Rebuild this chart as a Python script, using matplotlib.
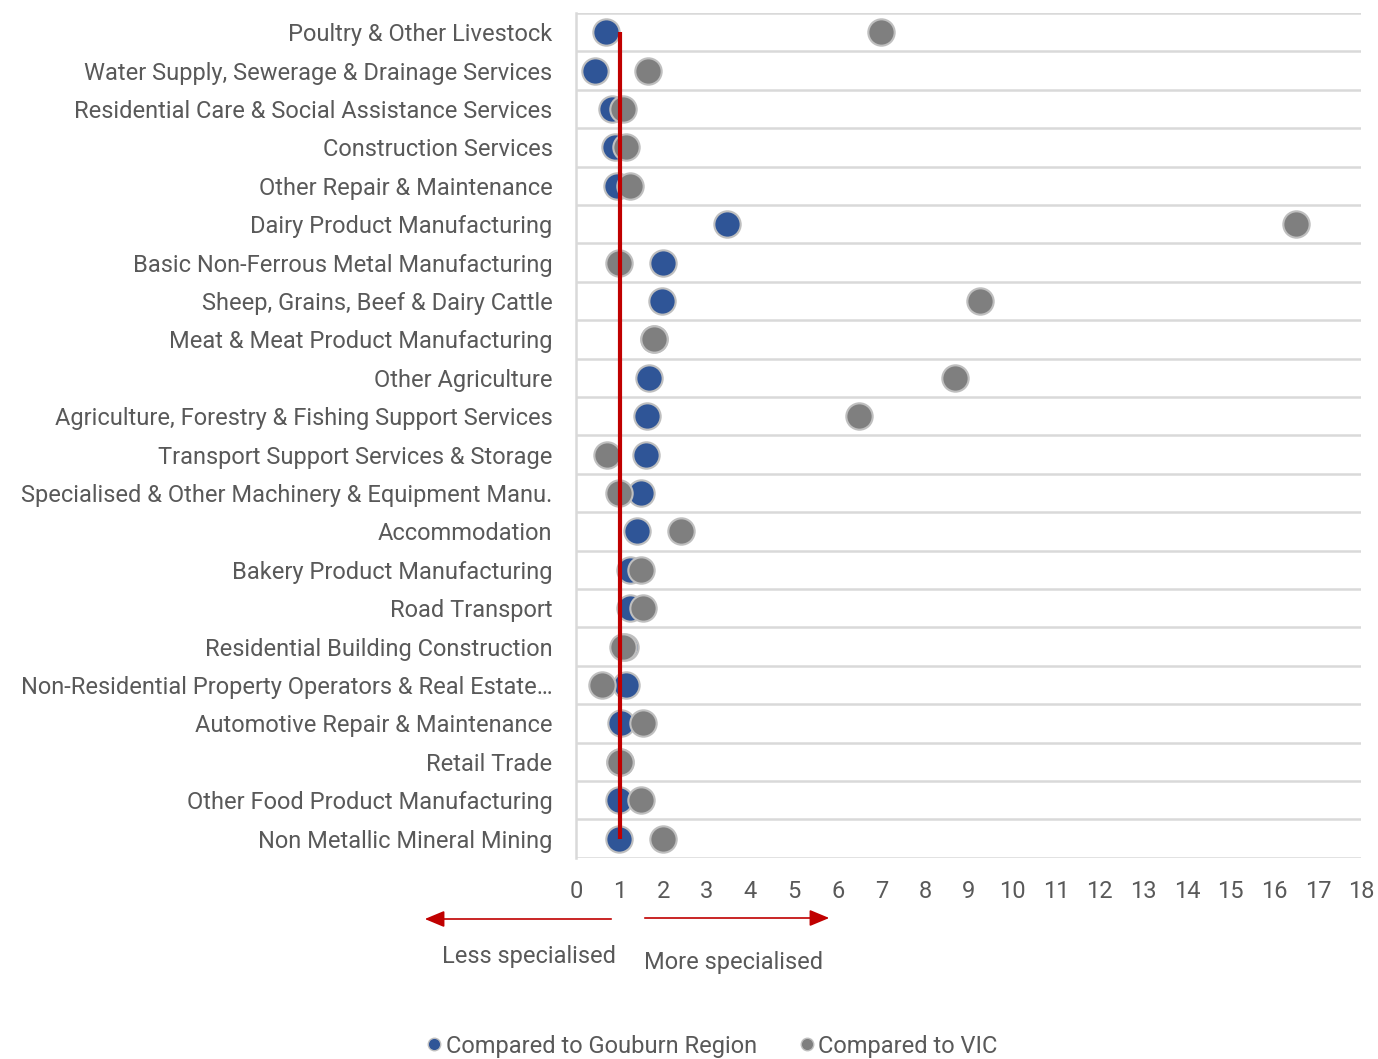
import matplotlib.pyplot as plt
from matplotlib.lines import Line2D
from matplotlib.patches import FancyArrowPatch

plt.rcParams['font.family'] = ['Roboto', 'DejaVu Sans']

# industrias, de cima para baixo
industrias = [
    "Poultry & Other Livestock",
    "Water Supply, Sewerage & Drainage Services",
    "Residential Care & Social Assistance Services",
    "Construction Services",
    "Other Repair & Maintenance",
    "Dairy Product Manufacturing",
    "Basic Non-Ferrous Metal Manufacturing",
    "Sheep, Grains, Beef & Dairy Cattle",
    "Meat & Meat Product Manufacturing",
    "Other Agriculture",
    "Agriculture, Forestry & Fishing Support Services",
    "Transport Support Services & Storage",
    "Specialised & Other Machinery & Equipment Manu.",
    "Accommodation",
    "Bakery Product Manufacturing",
    "Road Transport",
    "Residential Building Construction",
    "Non-Residential Property Operators & Real Estate\u2026",
    "Automotive Repair & Maintenance",
    "Retail Trade",
    "Other Food Product Manufacturing",
    "Non Metallic Mineral Mining",
]

goulburn = [0.69, 0.43, 0.82, 0.89, 0.93, 3.46, 1.99, 1.97, 1.78, 1.67, 1.63,
            1.60, 1.49, 1.40, 1.24, 1.24, 1.12, 1.14, 1.03, 1.00, 0.98, 0.98]
vic = [6.98, 1.65, 1.07, 1.14, 1.24, 16.51, 0.99, 9.25, 1.79, 8.68, 6.48,
       0.71, 0.98, 2.40, 1.49, 1.53, 1.08, 0.60, 1.53, 1.00, 1.49, 1.99]

ticks_x = list(range(0, 19))

azul = "#2F5597"
cinza = "#7F7F7F"
vermelho = "#C00000"
texto = "#595959"
grade = "#D9D9D9"
fs = 17

fig = plt.figure(figsize=(13.78, 10.59), dpi=100)
ax = fig.add_axes([0.418, 0.19, 0.570, 0.7977])

pos = list(range(len(industrias)))

ax.scatter(goulburn, pos, s=360, color=azul, edgecolors="#BFBFBF", linewidths=1.5, zorder=3)
ax.scatter(vic, pos, s=360, color=cinza, edgecolors="#BFBFBF", linewidths=1.5, zorder=4)

# linha de referencia em 1
ax.plot([1, 1], [pos[0], pos[-1]], color=vermelho, lw=3, zorder=5, solid_capstyle="butt")

ax.set_xlim(0, 18)
ax.set_ylim(len(industrias) - 0.5, -0.5)
ax.set_xticks(ticks_x)
ax.set_yticks(pos)
ax.set_yticklabels(industrias, va="center_baseline")

for b in range(len(industrias) + 1):
    ax.axhline(b - 0.5, color=grade, lw=1.8, zorder=1)

for s in ["top", "right", "bottom"]:
    ax.spines[s].set_visible(False)
ax.spines["left"].set_color(grade)
ax.spines["left"].set_linewidth(1.8)

ax.tick_params(axis="y", length=0, pad=17, labelsize=fs, labelcolor=texto)
ax.tick_params(axis="x", length=0, pad=16, labelsize=fs, labelcolor=texto)

# setas
for ini, fim, y in [(614, 422, 919), (642, 832, 918)]:
    fig.patches.append(FancyArrowPatch(
        (ini / 1378, 1 - y / 1059), (fim / 1378, 1 - y / 1059),
        transform=fig.transFigure, arrowstyle="-|>,head_length=12,head_width=5",
        color=vermelho, lw=1.2, mutation_scale=1))

fig.text(529 / 1378, 1 - 956 / 1059, "Less specialised", ha="center", va="center",
         fontsize=fs, color=texto)
fig.text(734 / 1378, 1 - 962 / 1059, "More specialised", ha="center", va="center",
         fontsize=fs, color=texto)

handles = [
    Line2D([], [], marker="o", ls="", markersize=9, markerfacecolor=azul,
           markeredgecolor="#BFBFBF", label="Compared to Gouburn Region"),
    Line2D([], [], marker="o", ls="", markersize=9, markerfacecolor=cinza,
           markeredgecolor="#BFBFBF", label="Compared to VIC"),
]
leg = fig.legend(handles=handles, loc="center", bbox_to_anchor=(710 / 1378, 1 - 1046 / 1059),
                 ncol=2, frameon=False, fontsize=fs, handletextpad=0.0,
                 columnspacing=1.6, handlelength=1.0)
for t in leg.get_texts():
    t.set_color(texto)

fig.savefig("out.png", dpi=100)
